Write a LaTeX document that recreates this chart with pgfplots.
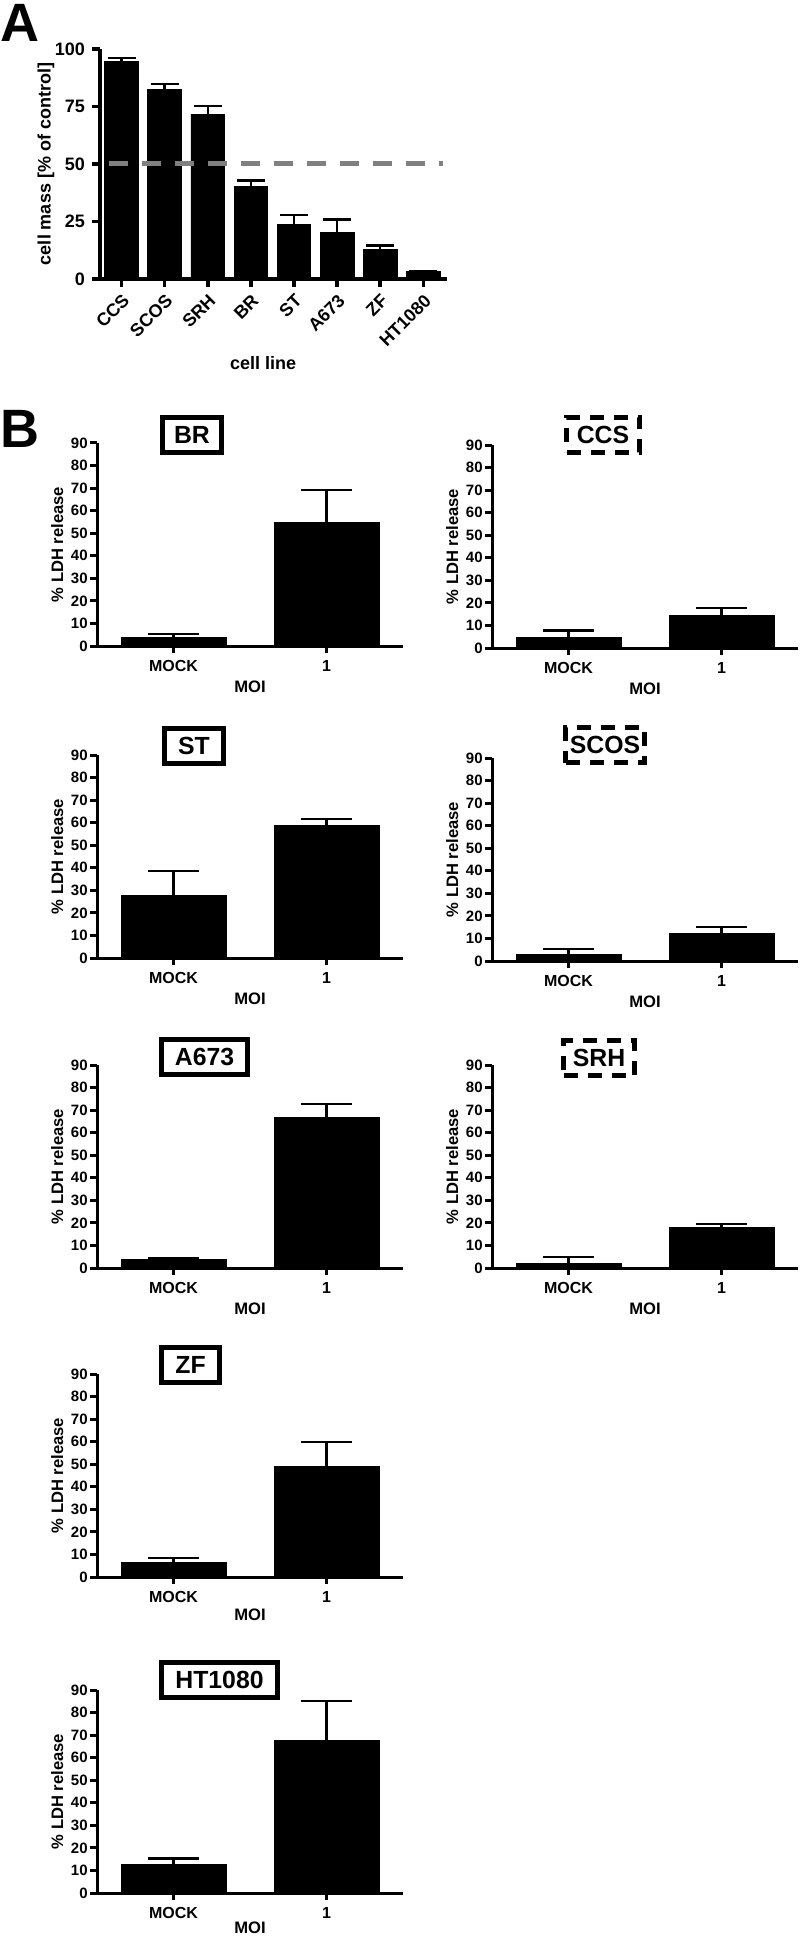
\documentclass[border=0pt]{standalone}
\usepackage{fontspec}
\setmainfont{Liberation Sans}
\usepackage{pgfplots}
\pgfplotsset{compat=1.18}

\pgfplotsset{
  ldh/.style={
    scale only axis, width=153pt, height=101.5pt, anchor=south west,
    xmin=-0.5, xmax=1.5, ymin=0, ymax=90, clip=false,
    axis lines=left, axis line style={-, line width=1.5pt},
    ytick={0,10,...,90}, xtick={0,1}, xticklabels={MOCK,1},
    tick align=outside, major tick length=3.5pt,
    tick style={line width=1.5pt, black},
    /pgf/number format/assume math mode=true,
    yticklabel style={font=\fontsize{7.5}{8}\selectfont\bfseries, inner sep=1pt},
    xticklabel style={font=\fontsize{8}{9}\selectfont\bfseries},
    ylabel={\% LDH release}, xlabel={MOI},
    label style={font=\fontsize{8.3}{9}\selectfont\bfseries},
    ylabel style={at={(axis description cs:-0.13,0.5)}, anchor=center},
    xlabel style={at={(axis description cs:0.5,-0.2)}, anchor=center},
  },
  ldhbar/.style={
    ybar, bar width=0.686, fill=black, draw=black,
    error bars/y dir=plus, error bars/y explicit,
    error bars/error bar style={line width=1.1pt, black},
    error bars/error mark options={rotate=90, line width=1.1pt, mark size=12.7pt, black},
  },
}
\tikzset{
  cellbox/.style={draw, line width=2.5pt, minimum height=17.5pt, inner sep=0pt,
    font=\fontsize{12.4}{14}\selectfont\bfseries},
  cellboxd/.style={cellbox, line width=2.2pt, dash pattern=on 7pt off 5pt},
}

\begin{document}
\begin{tikzpicture}
\useasboundingbox (0,0) rectangle (400pt,-968pt);

% panel A
\begin{axis}[
  at={(50pt,-139.5pt)}, anchor=south west, scale only axis,
  width=173.5pt, height=115pt, clip=false,
  xmin=-0.5, xmax=7.55, ymin=0, ymax=100,
  axis lines=left, axis line style={-, line width=1.8pt},
  ytick={0,25,50,75,100}, xtick={0,...,7},
  xticklabels={CCS,SCOS,SRH,BR,ST,A673,ZF,HT1080},
  tick align=outside, major tick length=4pt,
  tick style={line width=1.8pt, black},
  /pgf/number format/assume math mode=true,
  yticklabel style={font=\fontsize{9}{10}\selectfont\bfseries},
  xticklabel style={font=\fontsize{9}{10}\selectfont\bfseries, rotate=45,
    anchor=north east, inner sep=2pt},
  ylabel={cell mass [\% of control]}, xlabel={cell line},
  label style={font=\fontsize{9}{10}\selectfont\bfseries},
  ylabel style={at={(axis description cs:-0.156,0.5)}, anchor=center},
  xlabel style={at={(axis description cs:0.47,-0.365)}, anchor=center},
]
\addplot[ybar, bar width=0.78, fill=black, draw=black,
  error bars/y dir=plus, error bars/y explicit,
  error bars/error bar style={line width=1.2pt, black},
  error bars/error mark options={rotate=90, line width=1.2pt, mark size=7pt, black}]
  coordinates {(0,94.6) +- (0,1.5) (1,82.6) +- (0,2.2) (2,71.7) +- (0,3.4)
    (3,40.3) +- (0,2.5) (4,23.9) +- (0,3.8) (5,20.3) +- (0,5.5)
    (6,13.0) +- (0,1.6) (7,3.3) +- (0,0)};
\addplot[color={rgb,255:red,128;green,128;blue,128}, line width=2.5pt,
  dash pattern=on 9.5pt off 7pt] coordinates {(-0.3,50) (7.45,50)};
\end{axis}

% panel B, left column
\begin{axis}[ldh, at={(48.5pt,-323pt)}]
\addplot[ldhbar] coordinates {(0,3.6) +- (0,1.7) (1,54.7) +- (0,14.6)};
\end{axis}
\begin{axis}[ldh, at={(48.5pt,-479pt)}]
\addplot[ldhbar] coordinates {(0,27.7) +- (0,10.9) (1,58.6) +- (0,3.1)};
\end{axis}
\begin{axis}[ldh, at={(48.5pt,-634pt)}]
\addplot[ldhbar] coordinates {(0,3.7) +- (0,0.5) (1,66.8) +- (0,5.8)};
\end{axis}
\begin{axis}[ldh, at={(48.5pt,-788.5pt)}, xlabel style={at={(axis description cs:0.5,-0.185)}}]
\addplot[ldhbar] coordinates {(0,6.6) +- (0,2.0) (1,49.0) +- (0,11.0)};
\end{axis}
\begin{axis}[ldh, at={(48.5pt,-946.5pt)}, xlabel style={at={(axis description cs:0.5,-0.17)}}]
\addplot[ldhbar] coordinates {(0,12.6) +- (0,2.7) (1,67.5) +- (0,17.5)};
\end{axis}

% panel B, right column
\begin{axis}[ldh, at={(246pt,-324pt)}]
\addplot[ldhbar] coordinates {(0,4.5) +- (0,3.3) (1,14.4) +- (0,3.5)};
\end{axis}
\begin{axis}[ldh, at={(246pt,-480.5pt)}]
\addplot[ldhbar] coordinates {(0,3.0) +- (0,2.5) (1,12.2) +- (0,2.9)};
\end{axis}
\begin{axis}[ldh, at={(246pt,-634pt)}]
\addplot[ldhbar] coordinates {(0,2.2) +- (0,2.7) (1,18.0) +- (0,1.5)};
\end{axis}

% panel letters and cell line boxes
\node[font=\fontsize{27}{30}\selectfont\bfseries] at (10pt,-11.5pt) {A};
\node[font=\fontsize{27}{30}\selectfont\bfseries] at (10pt,-214.5pt) {B};

\node[cellbox, minimum width=29.5pt] at (96pt,-217.5pt) {BR};
\node[cellbox, minimum width=29.5pt] at (97pt,-372.75pt) {ST};
\node[cellbox, minimum width=43pt] at (102.25pt,-528.5pt) {A673};
\node[cellbox, minimum width=29pt] at (95.25pt,-682.5pt) {ZF};
\node[cellbox, minimum width=58pt] at (109.75pt,-839.75pt) {HT1080};
\node[cellboxd, minimum width=36.5pt] at (301.5pt,-217.5pt) {CCS};
\node[cellboxd, minimum width=39.5pt] at (302.5pt,-372.5pt) {SCOS};
\node[cellboxd, minimum width=35.5pt] at (299.5pt,-529pt) {SRH};
\end{tikzpicture}
\end{document}
